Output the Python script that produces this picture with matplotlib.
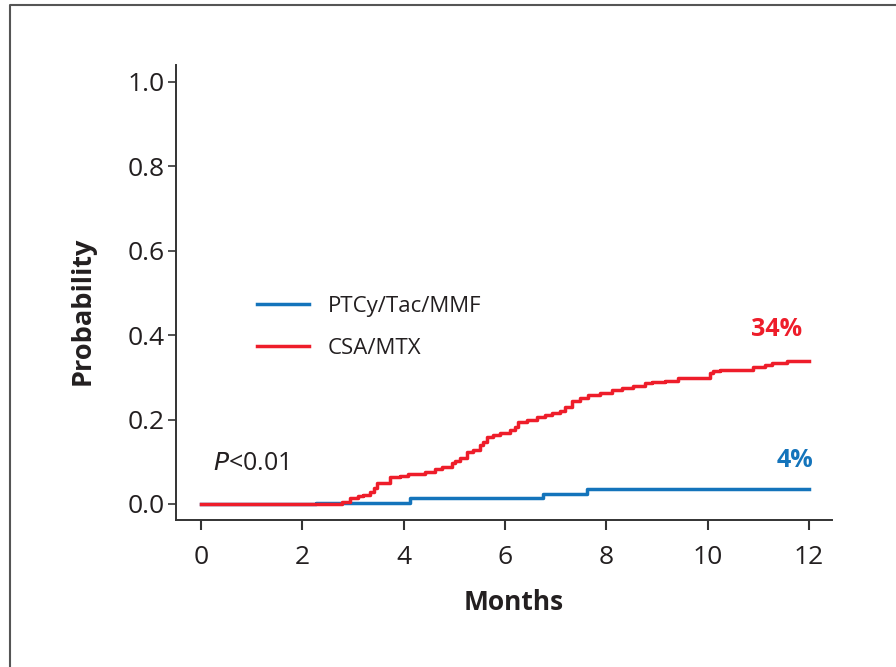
import matplotlib
matplotlib.use("Agg")
import matplotlib.pyplot as plt
from matplotlib.lines import Line2D

plt.rcParams['font.family'] = ['Open Sans', 'DejaVu Sans']

# Data: cumulative incidence step curves
red_times = [0, 2.78, 2.94, 3.10, 3.20, 3.34, 3.41, 3.47, 3.73, 3.93, 4.09, 4.42, 4.62,
             4.76, 4.95, 5.01, 5.11, 5.25, 5.37, 5.51, 5.57, 5.64, 5.76, 5.90, 6.10,
             6.20, 6.26, 6.43, 6.63, 6.79, 6.93, 7.09, 7.18, 7.32, 7.48, 7.64, 7.87,
             8.11, 8.31, 8.53, 8.76, 8.90, 9.16, 9.41, 10.05, 10.10, 10.24, 10.89,
             11.13, 11.27, 11.57, 12.0]
red_values = [0, 0.005, 0.014, 0.018, 0.021, 0.029, 0.037, 0.050, 0.064, 0.066, 0.071,
              0.076, 0.083, 0.088, 0.097, 0.102, 0.109, 0.123, 0.128, 0.140, 0.147,
              0.159, 0.164, 0.168, 0.175, 0.183, 0.195, 0.200, 0.205, 0.210, 0.215,
              0.221, 0.230, 0.244, 0.252, 0.257, 0.264, 0.270, 0.275, 0.280, 0.287,
              0.290, 0.292, 0.298, 0.310, 0.315, 0.317, 0.324, 0.329, 0.334, 0.338,
              0.338]
blue_times = [0, 2.27, 4.12, 6.74, 7.62, 12.0]
blue_values = [0, 0.003, 0.014, 0.024, 0.035, 0.035]

series_labels = ["PTCy/Tac/MMF", "CSA/MTX"]
end_labels = ["4%", "34%"]
x_ticks = [0, 2, 4, 6, 8, 10, 12]
y_ticks = [0.0, 0.2, 0.4, 0.6, 0.8, 1.0]

BLUE = "#1474BB"
RED = "#EE1D2A"
TXT = "#231F20"

W, H = 896, 667
fig = plt.figure(figsize=(W / 100, H / 100), dpi=100)
fig.patch.set_facecolor("white")

ax = fig.add_axes([176 / W, (H - 520) / H, (832 - 176) / W, (520 - 65) / H])
ax.set_xlim(-0.49, 12.45)
ax.set_ylim(-0.038, 1.04)

ax.step(blue_times, blue_values, where="post", color=BLUE, lw=2.5,
        label=series_labels[0], zorder=2)
ax.step(red_times, red_values, where="post", color=RED, lw=2.5,
        label=series_labels[1], zorder=3)

for s in ["top", "right"]:
    ax.spines[s].set_visible(False)
for s in ["left", "bottom"]:
    ax.spines[s].set_linewidth(1.4)
    ax.spines[s].set_color("#333333")

ax.set_xticks(x_ticks)
ax.set_xticklabels([str(t) for t in x_ticks])
ax.set_yticks(y_ticks)
ax.set_yticklabels([f"{t:.1f}" for t in y_ticks])
ax.tick_params(axis="x", direction="out", length=7, width=1.5, colors="#333333",
               labelcolor=TXT, labelsize=19, pad=11)
ax.tick_params(axis="y", direction="out", length=6, width=1.2, colors="#333333",
               labelcolor=TXT, labelsize=19, pad=2)

ax.set_xlabel("Months", fontsize=19, fontweight="bold", color=TXT, labelpad=14)
ax.set_ylabel("Probability", fontsize=19.5, fontweight="bold", color=TXT, labelpad=23.5)
ax.xaxis.label.set_x(0.515)
ax.yaxis.label.set_y(0.46)

leg = ax.legend(loc="upper left", bbox_to_anchor=(257 / W, (H - 296) / H),
                bbox_transform=fig.transFigure, frameon=False, fontsize=16,
                handlelength=2.35, handletextpad=0.85, labelspacing=0.95,
                borderpad=0, borderaxespad=0)
for t in leg.get_texts():
    t.set_color(TXT)

ax.text(0.24, 0.097, r"$\mathit{P}$<0.01", fontsize=18, color=TXT,
        ha="left", va="center")
ax.text(11.35, 0.413, end_labels[1], fontsize=18, fontweight="bold", color=RED,
        ha="center", va="center")
ax.text(11.72, 0.104, end_labels[0], fontsize=18, fontweight="bold", color=BLUE,
        ha="center", va="center")

# cropped outer frame (top and left edges)
fig.add_artist(Line2D([10 / W, 10 / W, 1.0], [0.0, 1 - 5 / H, 1 - 5 / H],
                      transform=fig.transFigure, color="#555555", lw=1.5))

fig.savefig("out.png", dpi=100)
